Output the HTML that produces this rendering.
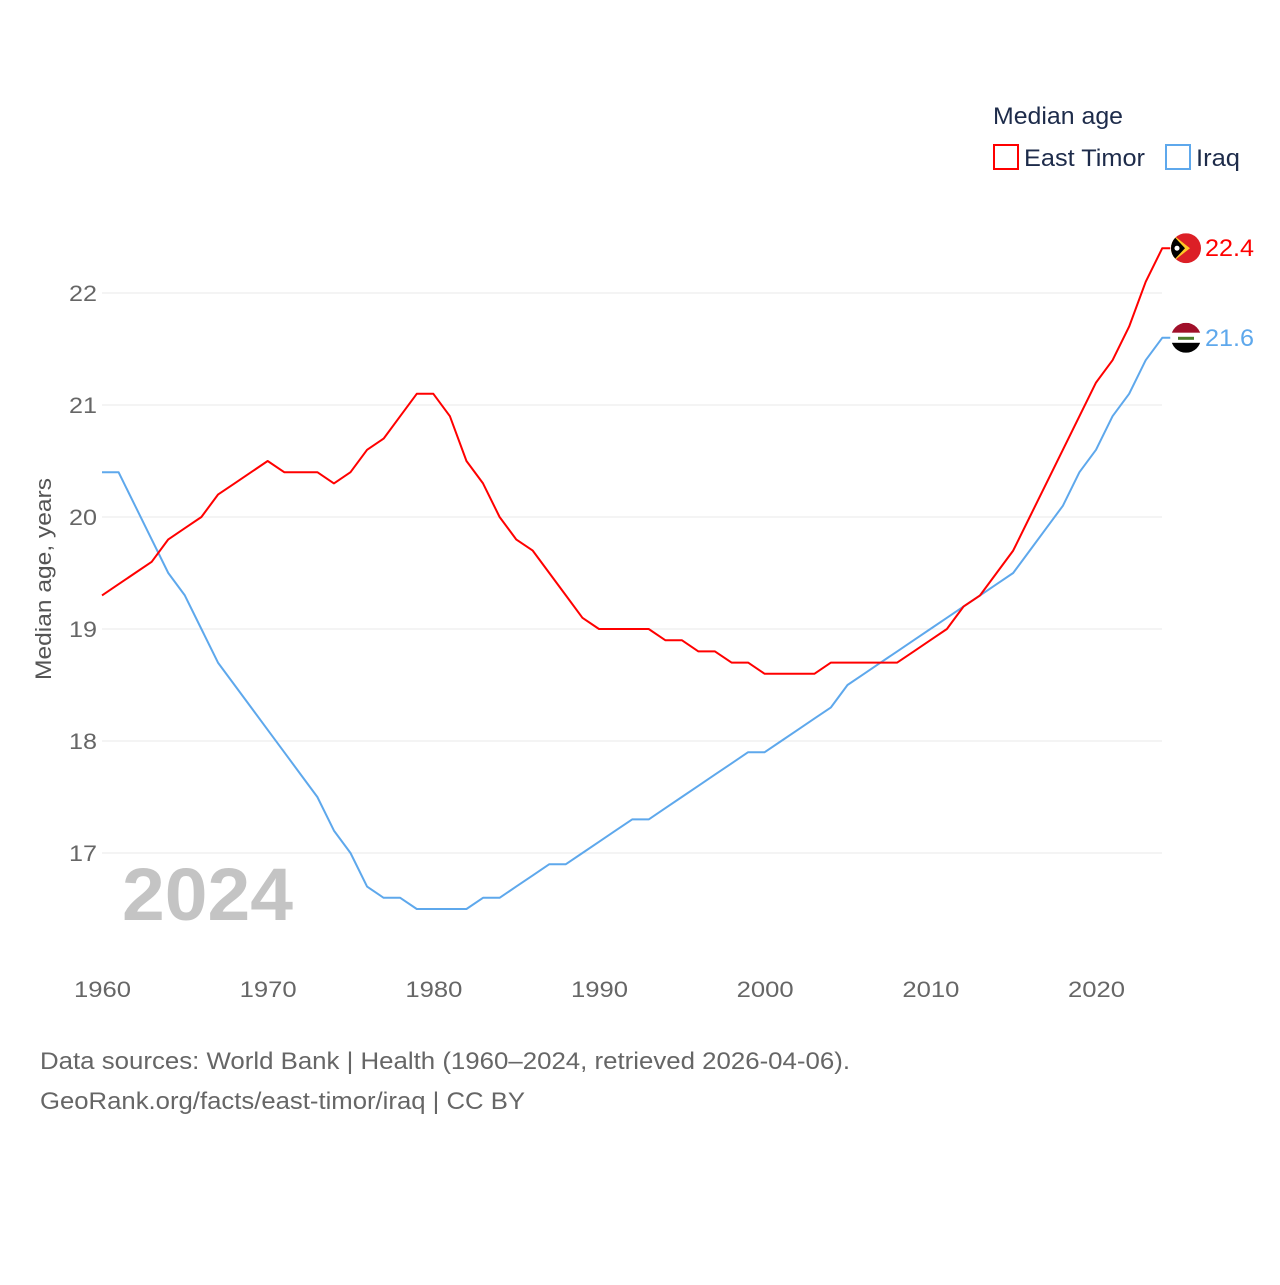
<!DOCTYPE html>
<html><head><meta charset="utf-8"><style>
body{margin:0;background:#fff;font-family:"Liberation Sans",sans-serif}
svg text{font-family:"Liberation Sans",sans-serif}
</style></head><body>
<svg width="1280" height="1280">
<g id="grid"></g>
<g id="xt"></g>
<text x="43" y="579" transform="rotate(-90 43 579)" font-size="22" fill="#555" text-anchor="middle" textLength="202" lengthAdjust="spacingAndGlyphs"><tspan x="43" y="587">Median age, years</tspan></text>
<text x="122" y="920" font-size="74" font-weight="bold" fill="#c4c4c4" textLength="171" lengthAdjust="spacingAndGlyphs">2024</text>
<g id="lines"></g>
<g>
<text x="993" y="124" font-size="24" fill="#1d2b4a" textLength="130" lengthAdjust="spacingAndGlyphs">Median age</text>
<rect x="994" y="145" width="24" height="24" fill="none" stroke="#ff0000" stroke-width="2"/>
<text x="1024" y="166" font-size="24" fill="#1d2b4a" textLength="121" lengthAdjust="spacingAndGlyphs">East Timor</text>
<rect x="1166" y="145" width="24" height="24" fill="none" stroke="#5ea8ec" stroke-width="2"/>
<text x="1196" y="166" font-size="24" fill="#1d2b4a" textLength="44" lengthAdjust="spacingAndGlyphs">Iraq</text>
</g>
<g id="ends"></g>
<text x="40" y="1069" font-size="24" fill="#666" textLength="810" lengthAdjust="spacingAndGlyphs">Data sources: World Bank | Health (1960–2024, retrieved 2026-04-06).</text>
<text x="40" y="1109" font-size="24" fill="#666" textLength="485" lengthAdjust="spacingAndGlyphs">GeoRank.org/facts/east-timor/iraq | CC BY</text>
</svg>
<script>
const years=[];for(let y=1960;y<=2024;y++)years.push(y);
const eastTimor=[19.3,19.4,19.5,19.6,19.8,19.9,20.0,20.2,20.3,20.4,20.5,20.4,20.4,20.4,20.3,20.4,20.6,20.7,20.9,21.1,21.1,20.9,20.5,20.3,20.0,19.8,19.7,19.5,19.3,19.1,19.0,19.0,19.0,19.0,18.9,18.9,18.8,18.8,18.7,18.7,18.6,18.6,18.6,18.6,18.7,18.7,18.7,18.7,18.7,18.8,18.9,19.0,19.2,19.3,19.5,19.7,20.0,20.3,20.6,20.9,21.2,21.4,21.7,22.1,22.4];
const iraq=[20.4,20.4,20.1,19.8,19.5,19.3,19.0,18.7,18.5,18.3,18.1,17.9,17.7,17.5,17.2,17.0,16.7,16.6,16.6,16.5,16.5,16.5,16.5,16.6,16.6,16.7,16.8,16.9,16.9,17.0,17.1,17.2,17.3,17.3,17.4,17.5,17.6,17.7,17.8,17.9,17.9,18.0,18.1,18.2,18.3,18.5,18.6,18.7,18.8,18.9,19.0,19.1,19.2,19.3,19.4,19.5,19.7,19.9,20.1,20.4,20.6,20.9,21.1,21.4,21.6];
const yTicks=[17,18,19,20,21,22];
const xTicks=[1960,1970,1980,1990,2000,2010,2020];
const NS='http://www.w3.org/2000/svg';
const X=y=>102+(y-1960)*994/60;
const Y=v=>293+(22-v)*112;
function mk(t,a,p){const e=document.createElementNS(NS,t);for(const k in a)e.setAttribute(k,a[k]);p.appendChild(e);return e;}
const grid=document.getElementById('grid');
yTicks.forEach(v=>{
 const l=mk('line',{x1:102,x2:1162,y1:Y(v),y2:Y(v),stroke:'#e8e8e8','stroke-width':1},grid);
 
 
 const t=mk('text',{x:97,y:Y(v)+8,'font-size':22,fill:'#666','text-anchor':'end',textLength:28,lengthAdjust:'spacingAndGlyphs'},grid);t.textContent=v;
 
 
});
const xt=document.getElementById('xt');
xTicks.forEach(v=>{
 const t=mk('text',{x:X(v)-28,y:997,'font-size':22,fill:'#666',textLength:57,lengthAdjust:'spacingAndGlyphs'},xt);t.textContent=v;
 
 
});
const lines=document.getElementById('lines');
function line(d,c,n){
 const pts=d.map((v,i)=>X(years[i])+','+Y(v));
 pts.push((X(years[years.length-1])+8)+','+Y(d[d.length-1]));
 const p=mk('polyline',{points:pts.join(' '),fill:'none',stroke:c,'stroke-width':2,'stroke-linejoin':'round'},lines);
 
 
}
line(iraq,'#5ea8ec','line-iraq');
line(eastTimor,'#ff0000','line-east-timor');
const ends=document.getElementById('ends');
const etV=eastTimor[eastTimor.length-1], iqV=iraq[iraq.length-1];
const cx=1186;
let cy=Y(etV);
let cp=mk('clipPath',{id:'c1'},ends);mk('circle',{cx:cx,cy:cy,r:15},cp);
let g=mk('g',{'clip-path':'url(#c1)'},ends);


mk('rect',{x:cx-15,y:cy-15,width:30,height:30,fill:'#dc1f26'},g);
mk('polygon',{points:`${cx-15},${cy-15} ${cx+4},${cy} ${cx-15},${cy+15}`,fill:'#ffc726'},g);
mk('polygon',{points:`${cx-15},${cy-15} ${cx-1},${cy} ${cx-15},${cy+15}`,fill:'#000'},g);
mk('circle',{cx:cx-9,cy:cy,r:2.5,fill:'#fff'},g);
let t=mk('text',{x:1205,y:cy+8,'font-size':24,fill:'#ff0000',textLength:49,lengthAdjust:'spacingAndGlyphs'},ends);t.textContent=etV.toFixed(1);


cy=Y(iqV);
cp=mk('clipPath',{id:'c2'},ends);mk('circle',{cx:cx,cy:cy,r:15},cp);
g=mk('g',{'clip-path':'url(#c2)'},ends);


mk('rect',{x:cx-15,y:cy-15,width:30,height:10,fill:'#a0102a'},g);
mk('rect',{x:cx-15,y:cy-5,width:30,height:10,fill:'#fff'},g);
mk('rect',{x:cx-15,y:cy+5,width:30,height:10,fill:'#000'},g);
mk('rect',{x:cx-8,y:cy-1,width:16,height:3,fill:'#4b7b2a'},g);
t=mk('text',{x:1205,y:cy+8,'font-size':24,fill:'#5ea8ec',textLength:49,lengthAdjust:'spacingAndGlyphs'},ends);t.textContent=iqV.toFixed(1);


</script>
</body></html>
